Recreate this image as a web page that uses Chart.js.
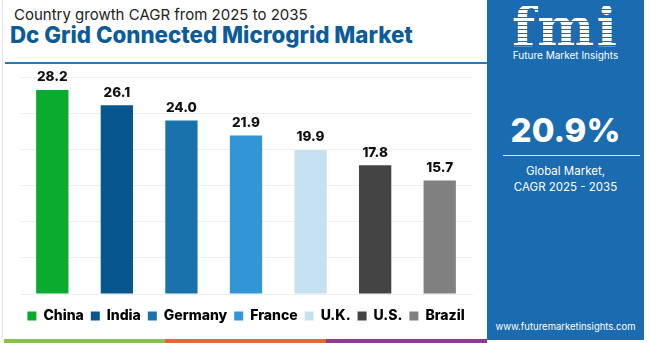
<!DOCTYPE html>
<html>
<head>
<meta charset="utf-8">
<script src="https://cdn.jsdelivr.net/npm/chart.js@4"></script>
<style>
  body { margin: 0; width: 650px; height: 343px; background: #fff; font-family: Inter, "Open Sans", sans-serif; overflow: hidden; position: relative; }
  .frame { position: absolute; left: 2px; top: 0; width: 485px; height: 338px; border-left: 1px solid #e2e2e2; }
  .sub { position: absolute; left: 14px; top: 5px; font-size: 15px; color: #222; }
  .title { position: absolute; left: 10px; top: 21px; font-size: 22.3px; font-weight: 800; color: #0d5c9a; }
  .rule { position: absolute; left: 5px; top: 62px; width: 482px; height: 2px; background: #2a7ab8; }
  .chartbox { position: absolute; left: 0; top: 60px; width: 487px; height: 275px; }
  .stripe { position: absolute; top: 339px; height: 4px; }
  .panel { position: absolute; left: 487px; top: 0; width: 157px; height: 340px; background: #1a6bb0; color: #fff; text-align: center; }
  .logo { position: absolute; left: 0; width: 157px; top: 2px; font-family: "DejaVu Serif", serif; font-weight: bold; font-size: 54px; line-height: 50px; letter-spacing: 2px;
          background: repeating-linear-gradient(#fff 0 3px, #1a6bb0 3px 4px); -webkit-background-clip: text; background-clip: text; color: transparent; }
  .fmi-sub { position: absolute; left: 0; width: 157px; top: 49px; font-size: 10px; }
  .big { position: absolute; left: 0; width: 157px; top: 110px; font-size: 33px; font-weight: 800; }
  .hr { position: absolute; left: 16px; width: 137px; top: 155px; height: 1px; background: #d9e7f3; }
  .glob { position: absolute; left: 0; width: 157px; top: 163px; font-size: 11.5px; line-height: 16px; }
  .url { position: absolute; left: 0; width: 157px; top: 321px; font-size: 9.5px; }
</style>
</head>
<body>
<div class="frame"></div>
<div class="sub">Country growth CAGR from 2025 to 2035</div>
<div class="title">Dc Grid Connected Microgrid Market</div>
<div class="rule"></div>
<div class="chartbox"><canvas id="c"></canvas></div>
<div class="stripe" style="left:4px;width:161px;background:#8bc34a"></div>
<div class="stripe" style="left:165px;width:161px;background:#e36a2e"></div>
<div class="stripe" style="left:326px;width:161px;background:#8a3c8f"></div>
<div class="panel">
  <div class="logo">fmi</div>
  <div class="fmi-sub">Future Market Insights</div>
  <div class="big">20.9%</div>
  <div class="hr"></div>
  <div class="glob">Global Market,<br>CAGR 2025 - 2035</div>
  <div class="url">www.futuremarketinsights.com</div>
</div>
<script>
const countries = ['China', 'India', 'Germany', 'France', 'U.K.', 'U.S.', 'Brazil'];
const cagr = [28.2, 26.1, 24.0, 21.9, 19.9, 17.8, 15.7];
const barColors = ['#0aab2f', '#07568e', '#1a72ad', '#3195d6', '#c6e2f1', '#444444', '#808080'];

const valueLabels = {
  id: 'valueLabels',
  afterDatasetsDraw(chart) {
    const ctx = chart.ctx;
    const meta = chart.getDatasetMeta(0);
    ctx.save();
    ctx.font = '800 13.5px Inter, sans-serif';
    ctx.fillStyle = '#111';
    ctx.textAlign = 'center';
    ctx.textBaseline = 'bottom';
    meta.data.forEach((bar, i) => {
      ctx.fillText(cagr[i].toFixed(1), bar.x, bar.y - 6);
    });
    ctx.restore();
  }
};

new Chart(document.getElementById('c'), {
  type: 'bar',
  data: {
    labels: countries,
    datasets: [{ data: cagr, backgroundColor: barColors, barPercentage: 0.5, categoryPercentage: 1 }]
  },
  options: {
    responsive: true,
    maintainAspectRatio: false,
    animation: false,
    layout: { padding: { left: 20, right: 15, top: 17, bottom: 2 } },
    plugins: {
      tooltip: { enabled: false },
      legend: {
        position: 'bottom',
        labels: {
          boxWidth: 9,
          boxHeight: 9,
          padding: 7,
          color: '#111',
          font: { family: 'Inter', size: 14, weight: '800' },
          generateLabels: () => countries.map((c, i) => ({
            text: c, fillStyle: barColors[i], strokeStyle: barColors[i], lineWidth: 0, index: i
          }))
        }
      }
    },
    scales: {
      x: { grid: { display: false }, ticks: { display: false }, border: { display: true, color: '#eeeeee' } },
      y: {
        min: 0, max: 30,
        ticks: { display: false, stepSize: 5 },
        grid: { color: '#efefef', drawTicks: false },
        border: { display: false }
      }
    }
  },
  plugins: [valueLabels]
});
</script>
</body>
</html>
